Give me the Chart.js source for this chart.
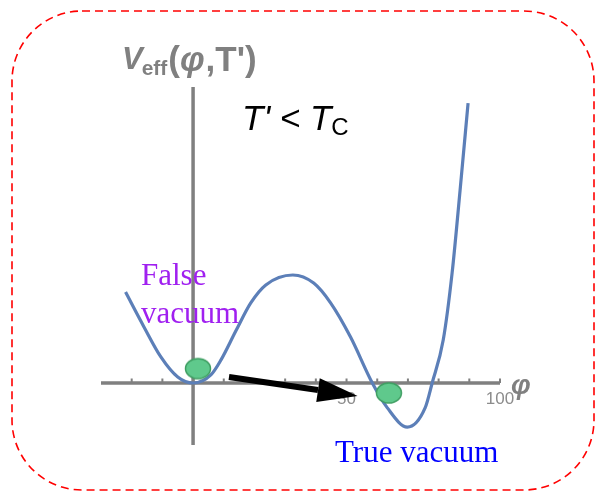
<!DOCTYPE html>
<html>
<head>
<meta charset="utf-8">
<script src="https://cdn.jsdelivr.net/npm/chart.js@4"></script>
<style>
  html, body { margin: 0; padding: 0; background: #fff; }
</style>
</head>
<body>
<canvas id="potential-chart" width="596" height="493"></canvas>
<script>
// Effective potential V_eff(phi, T') below the critical temperature
const phiValues = [-22, -16, -10.5, -5, 0, 5.8, 9.1, 14, 18.8, 23.7, 32.5, 39.3, 44.8, 51.3, 58.4, 63.3, 69.8, 75.6, 77.9, 81.5, 84.4, 87, 89.6];
const potentialValues = [30.3, 18.7, 8.7, 2, 0, 2.7, 7.7, 17.5, 26.7, 32.7, 36, 33.3, 26.7, 15.3, 0, -8.3, -14.7, -8.3, 0, 14.3, 36.7, 64.3, 93.3];

// Balls sitting in the false and the true vacuum
const ballPhi = [1.6, 63.8];
const ballV = [4.8, -3.3];

// Tunnelling arrow (start, tip)
const arrowPhi = [11.7, 53.6];
const arrowV = [2, -4.3];

// Axis ticks and labels
const tickPhi = [-20, -10, 10, 20, 30, 40, 50, 60, 70, 80, 90, 100];
const labelPhi = [50, 100];
const labelText = ['50', '100'];

const axisGray = '#808080';

// Ellipse sprite used as point style for the balls
function makeBall() {
    const c = document.createElement('canvas');
    c.width = 28;
    c.height = 24;
    const g = c.getContext('2d');
    g.fillStyle = '#5fc98c';
    g.strokeStyle = '#3f9e62';
    g.lineWidth = 1.5;
    g.beginPath();
    g.ellipse(14, 12, 12.5, 10, 0, 0, Math.PI * 2);
    g.fill();
    g.stroke();
    return c;
}

const decorations = {
    id: 'decorations',
    beforeDraw(chart) {
        const ctx = chart.ctx;
        // dashed red frame
        ctx.save();
        ctx.strokeStyle = '#ff0000';
        ctx.lineWidth = 1.6;
        ctx.setLineDash([8, 5]);
        ctx.beginPath();
        ctx.roundRect(12, 11, 582, 479, 70);
        ctx.stroke();
        ctx.restore();
    },
    beforeDatasetsDraw(chart) {
        const { ctx, scales: { x, y } } = chart;
        const x0 = x.getPixelForValue(0);
        const y0 = y.getPixelForValue(0);
        ctx.save();
        ctx.strokeStyle = axisGray;
        ctx.lineWidth = 3.5;
        ctx.beginPath();
        ctx.moveTo(x.left, y0);
        ctx.lineTo(x.right, y0);
        ctx.moveTo(x0, y.top);
        ctx.lineTo(x0, y.bottom);
        ctx.stroke();

        // small ticks above the phi axis
        ctx.lineWidth = 2;
        ctx.beginPath();
        tickPhi.forEach(v => {
            const px = x.getPixelForValue(v);
            ctx.moveTo(px, y0);
            ctx.lineTo(px, y0 - 4.5);
        });
        ctx.stroke();

        ctx.fillStyle = '#8c8c8c';
        ctx.font = '17px "Liberation Sans", Arial, sans-serif';
        ctx.textAlign = 'center';
        ctx.textBaseline = 'top';
        labelPhi.forEach((v, i) => {
            ctx.fillText(labelText[i], x.getPixelForValue(v), y0 + 8);
        });

        // phi axis name
        ctx.fillStyle = axisGray;
        ctx.font = 'italic bold 28px "Liberation Sans", Arial, sans-serif';
        ctx.textAlign = 'left';
        ctx.textBaseline = 'alphabetic';
        ctx.fillText('φ', x.right + 11, y0 + 11);

        // V_eff(phi,T') title over the vertical axis
        let tx = 122;
        ctx.font = 'italic bold 31px "Liberation Sans", Arial, sans-serif';
        ctx.fillText('V', tx, 69);
        tx += ctx.measureText('V').width - 1;
        ctx.font = 'bold 21px "Liberation Sans", Arial, sans-serif';
        ctx.fillText('eff', tx, 75);
        tx += ctx.measureText('eff').width + 1;
        ctx.font = 'bold 35px "Liberation Sans", Arial, sans-serif';
        ctx.fillText('(', tx, 71);
        tx += ctx.measureText('(').width;
        ctx.font = 'italic bold 35px "Liberation Sans", Arial, sans-serif';
        ctx.fillText('φ', tx, 71);
        tx += ctx.measureText('φ').width + 1;
        ctx.font = 'bold 35px "Liberation Sans", Arial, sans-serif';
        ctx.fillText(",T')", tx, 71);
        ctx.restore();
    },
    afterDatasetsDraw(chart) {
        const { ctx, scales: { x, y } } = chart;
        ctx.save();

        // tunnelling arrow
        const x1 = x.getPixelForValue(arrowPhi[0]);
        const y1 = y.getPixelForValue(arrowV[0]);
        const x2 = x.getPixelForValue(arrowPhi[1]);
        const y2 = y.getPixelForValue(arrowV[1]);
        const ang = Math.atan2(y2 - y1, x2 - x1);
        const headLen = 40, headHalf = 12;
        const bx = x2 - headLen * Math.cos(ang);
        const by = y2 - headLen * Math.sin(ang);
        ctx.strokeStyle = '#000';
        ctx.fillStyle = '#000';
        ctx.lineWidth = 6;
        ctx.beginPath();
        ctx.moveTo(x1, y1);
        ctx.lineTo(bx, by);
        ctx.stroke();
        ctx.beginPath();
        ctx.moveTo(x2, y2);
        ctx.lineTo(bx + headHalf * Math.sin(ang), by - headHalf * Math.cos(ang));
        ctx.lineTo(bx - headHalf * Math.sin(ang), by + headHalf * Math.cos(ang));
        ctx.closePath();
        ctx.fill();

        // T' < T_C
        ctx.fillStyle = '#000';
        ctx.textAlign = 'left';
        ctx.textBaseline = 'alphabetic';
        ctx.font = 'italic 35px "Liberation Sans", Arial, sans-serif';
        ctx.fillText("T' < T", 242, 130);
        const w = ctx.measureText("T' < T").width;
        ctx.font = '24px "Liberation Sans", Arial, sans-serif';
        ctx.fillText('C', 242 + w, 135);

        // vacuum labels
        ctx.font = '31px "Liberation Serif", "Times New Roman", serif';
        ctx.fillStyle = '#a020f0';
        ctx.fillText('False', 141, 285);
        ctx.fillText('vacuum', 141, 323);
        ctx.fillStyle = '#0000ff';
        ctx.fillText('True vacuum', 335, 462);
        ctx.restore();
    }
};

const ctx = document.getElementById('potential-chart').getContext('2d');
const potentialChart = new Chart(ctx, {
    type: 'line',
    data: {
        datasets: [
            {
                label: 'V_eff',
                data: phiValues.map((p, i) => ({ x: p, y: potentialValues[i] })),
                borderColor: '#5c7fb8',
                borderWidth: 3.2,
                pointRadius: 0,
                fill: false,
                cubicInterpolationMode: 'monotone',
                order: 2
            },
            {
                label: 'balls',
                data: ballPhi.map((p, i) => ({ x: p, y: ballV[i] })),
                showLine: false,
                pointStyle: makeBall(),
                pointRadius: 12,
                order: 1
            }
        ]
    },
    options: {
        responsive: false,
        animation: false,
        layout: { padding: { left: 101, right: 96, top: 87, bottom: 48 } },
        plugins: {
            legend: { display: false },
            tooltip: { enabled: false }
        },
        scales: {
            x: { type: 'linear', min: -30, max: 100, display: false },
            y: { type: 'linear', min: -20.67, max: 98.67, display: false }
        }
    },
    plugins: [decorations]
});
</script>
</body>
</html>
